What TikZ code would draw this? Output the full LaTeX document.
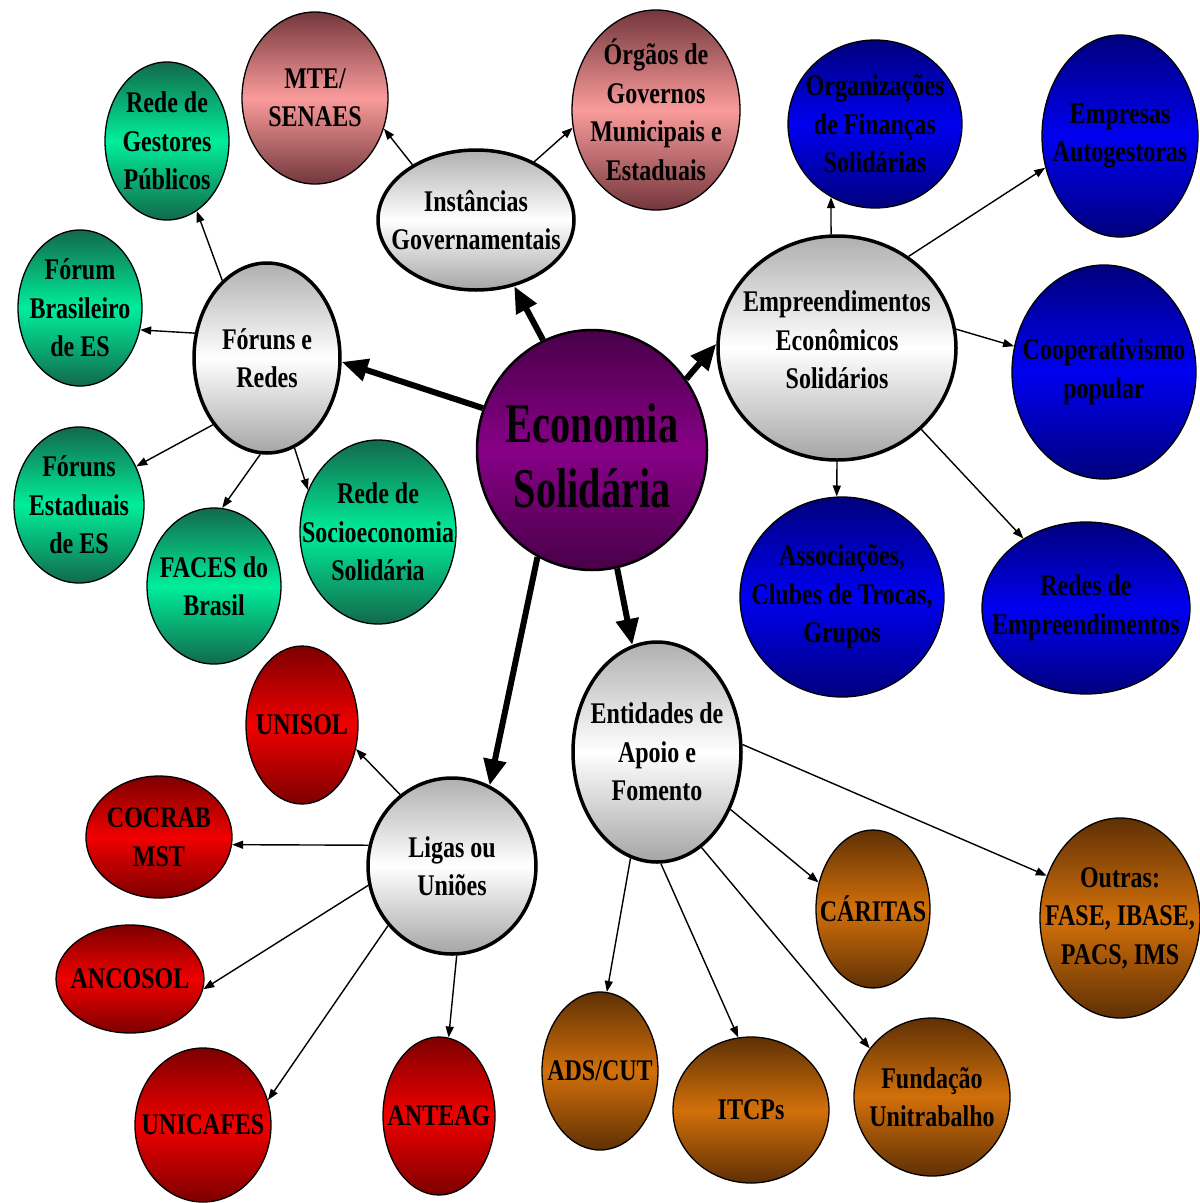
\documentclass[tikz,border=0pt]{standalone}
\usepackage{fontspec}
\setmainfont{Liberation Serif}
\newfontfamily\cfont[FakeStretch=0.8]{Liberation Serif}
\newfontfamily\bigfont[FakeStretch=0.72]{Liberation Serif}
\usetikzlibrary{shapes.geometric,arrows.meta}
\definecolor{hubtop}{RGB}{175,175,175}
\definecolor{hubbot}{RGB}{165,165,165}
\definecolor{pinkd}{RGB}{115,55,60}
\definecolor{pinkm}{RGB}{250,155,155}
\definecolor{greend}{RGB}{18,105,75}
\definecolor{greenm}{RGB}{0,238,155}
\definecolor{blued}{RGB}{0,0,125}
\definecolor{bluem}{RGB}{0,0,240}
\definecolor{redd}{RGB}{125,0,0}
\definecolor{redm}{RGB}{240,0,0}
\definecolor{brownd}{RGB}{95,48,5}
\definecolor{brownm}{RGB}{210,112,10}
\definecolor{purpd}{RGB}{72,0,72}
\definecolor{purpm}{RGB}{135,0,135}
\tikzset{
  bubble/.style={ellipse, draw=black, line width=1.3pt, inner sep=0pt},
  hub/.style={bubble, line width=3.5pt, top color=hubtop, bottom color=hubbot, middle color=white},
  pinkb/.style={bubble, top color=pinkd, bottom color=pinkd, middle color=pinkm},
  greenb/.style={bubble, top color=greend, bottom color=greend, middle color=greenm},
  blueb/.style={bubble, top color=blued, bottom color=blued, middle color=bluem},
  redb/.style={bubble, top color=redd, bottom color=redd, middle color=redm},
  brownb/.style={bubble, top color=brownd, bottom color=brownd, middle color=brownm},
  purpb/.style={bubble, line width=2.5pt, top color=purpd, bottom color=purpd, middle color=purpm},
  lbl/.style={font=\cfont\bfseries\fontsize{30}{38.5}\selectfont, align=center, inner sep=0pt, text=black},
  biglbl/.style={font=\bigfont\bfseries\fontsize{56}{65}\selectfont, align=center, inner sep=0pt, text=black},
  thinarr/.style={line width=1.4pt, -{Triangle[length=11pt,width=8pt]}},
  thickarr/.style={line width=6pt, -{Triangle[length=26pt,width=22pt]}},
}
\newcommand\mybub[7]{%
  \node[#6, minimum width={2*#4pt}, minimum height={2*#5pt}] (#1) at (#2,#3) {};
  \node[lbl] (#1-t) at (#1) {#7};}
\begin{document}
\begin{tikzpicture}[x=1pt,y=-1pt]
\path[use as bounding box, fill=white] (0,0) rectangle (1200,1203);
% center
\node[purpb, minimum width=230pt, minimum height=240pt] (es) at (592,450) {};
\node[biglbl, yshift=-6pt] (es-t) at (es) {Economia\\Solidária};
% hubs
\mybub{inst}{476}{220}{98}{70}{hub}{Instâncias\\Governamentais}
\mybub{fr}{267}{358}{73}{95}{hub}{Fóruns e\\Redes}
\node[hub, minimum width=238pt, minimum height=224pt] (emp) at (837,348) {};
\node[lbl, yshift=8pt] (emp-t) at (emp) {Empreendimentos\\Econômicos\\Solidários};
\mybub{ent}{657}{752}{84}{110}{hub}{Entidades de\\Apoio e\\Fomento}
\mybub{ligas}{452}{866}{84}{88}{hub}{Ligas ou\\Uniões}
% government
\mybub{mte}{315}{98}{73}{86}{pinkb}{MTE/\\SENAES}
\mybub{org}{656}{110}{84}{100}{pinkb}{Órgãos de\\Governos\\Municipais e\\Estaduais}
% forums
\mybub{rg}{167}{141}{62}{79}{greenb}{Rede de\\Gestores\\Públicos}
\mybub{fb}{80}{308}{62}{78}{greenb}{Fórum\\Brasileiro\\de ES}
\mybub{fe}{79}{505}{65}{78}{greenb}{Fóruns\\Estaduais\\de ES}
\mybub{faces}{214}{586}{67}{78}{greenb}{FACES do\\Brasil}
\mybub{rs}{378}{532}{78}{92}{greenb}{Rede de\\Socioeconomia\\Solidária}
% enterprises
\mybub{of}{875}{124}{87}{84}{blueb}{Organizações\\de Finanças\\Solidárias}
\mybub{ea}{1120}{136}{78}{101}{blueb}{Empresas\\Autogestoras}
\mybub{cp}{1104}{372}{92}{107}{blueb}{Cooperativismo\\popular}
\mybub{as}{842}{597}{102}{100}{blueb}{Associações,\\Clubes de Trocas,\\Grupos}
\mybub{re}{1086}{608}{104}{86}{blueb}{Redes de\\Empreendimentos}
% leagues
\mybub{unisol}{302}{725}{56}{79}{redb}{UNISOL}
\mybub{cocrab}{159}{837}{73}{61}{redb}{COCRAB\\MST}
\mybub{ancosol}{130}{979}{74}{54}{redb}{ANCOSOL}
\mybub{unicafes}{203}{1125}{68}{77}{redb}{UNICAFES}
\mybub{anteag}{439}{1116}{56}{79}{redb}{ANTEAG}
% support
\mybub{ads}{600}{1071}{58}{79}{brownb}{ADS/CUT}
\mybub{itcp}{751}{1110}{78}{73}{brownb}{ITCPs}
\mybub{fund}{932}{1097}{78}{79}{brownb}{Fundação\\Unitrabalho}
\mybub{car}{873}{909}{57}{79}{brownb}{CÁRITAS}
\mybub{out}{1120}{918}{80}{100}{brownb}{Outras:\\FASE, IBASE,\\PACS, IMS}
% thick connectors
\draw[thickarr] (es.159) -- (fr.-3);
\draw[thickarr] (es.114) -- (inst.-60);
\draw[thickarr] (es.37) -- (emp.178);
\draw[thickarr] (es.-78) -- (ent.103);
\draw[thickarr] (es.-117) -- (ligas.65);
% thin connectors
\draw[thinarr] (inst.139) -- (mte.-24);
\draw[thinarr] (inst.45) -- (org.-168);
\draw[thinarr] (fr.120) -- (rg.-67);
\draw[thinarr] (fr.161) -- (fb.-20);
\draw[thinarr] (fr.-129) -- (fe.34);
\draw[thinarr] (fr.-94) -- (faces.84);
\draw[thinarr] (fr.-73) -- (rs.149);
\draw[thinarr] (emp.93) -- (of.-121);
\draw[thinarr] (emp.52) -- (ea.-157);
\draw[thinarr] (emp.9) -- (cp.164);
\draw[thinarr] (emp.-90) -- (as.93);
\draw[thinarr] (emp.-44) -- (re.132);
\draw[thinarr] (ligas.126) -- (unisol.-24);
\draw[thinarr] (ligas.166) -- (cocrab.-6);
\draw[thinarr] (ligas.-167) -- (ancosol.-8);
\draw[thinarr] (ligas.-137) -- (unicafes.21);
\draw[thinarr] (ligas.-87) -- (anteag.83);
\draw[thinarr] (ent.-104) -- (ads.85);
\draw[thinarr] (ent.-88) -- (itcp.100);
\draw[thinarr] (ent.-65) -- (fund.142);
\draw[thinarr] (ent.-38) -- (car.154);
\draw[thinarr] (ent.5) -- (out.150);
\end{tikzpicture}
\end{document}
